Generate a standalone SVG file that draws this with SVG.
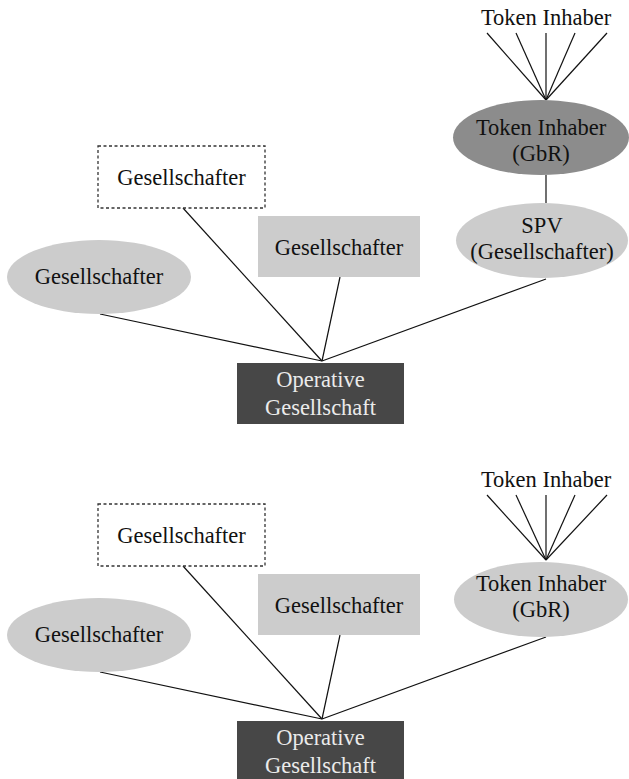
<svg xmlns="http://www.w3.org/2000/svg" width="629" height="779" viewBox="0 0 629 779" font-family="'Liberation Serif', 'DejaVu Serif', serif">
  <style>
    text { font-family: 'Liberation Serif', 'DejaVu Serif', serif; font-size: 22.5px; text-anchor: middle; fill: #111; }
    .light { fill: #cccccc; }
    .dark { fill: #8c8c8c; }
    .op { fill: #474747; }
    .optext { fill: #ebebeb; }
    .dashed { fill: #ffffff; stroke: #333; stroke-width: 1.3; stroke-dasharray: 3 2.5; }
    .edges line { stroke: #111; stroke-width: 1.2; }
  </style>
  <rect width="629" height="779" fill="#ffffff"/>

  <!-- upper structure: holders via GbR and SPV -->
  <g class="edges" id="edges-top">
    <line x1="487" y1="33" x2="546" y2="100"/>
    <line x1="516" y1="33" x2="546" y2="100"/>
    <line x1="546" y1="33" x2="546" y2="100"/>
    <line x1="575" y1="33" x2="546" y2="100"/>
    <line x1="607" y1="33" x2="546" y2="100"/>
    <line x1="546" y1="175" x2="546" y2="203"/>
    <line x1="546" y1="279" x2="322" y2="361"/>
    <line x1="100" y1="314" x2="322" y2="361"/>
    <line x1="183" y1="208" x2="322" y2="361"/>
    <line x1="340" y1="277" x2="322" y2="361"/>
  </g>

  <g id="holders-top">
    <text x="546" y="25">Token Inhaber</text>
  </g>
  <g id="gbr-top">
    <ellipse class="dark" cx="541" cy="137.5" rx="88" ry="37.5"/>
    <text x="541" y="135">Token Inhaber</text>
    <text x="541" y="161">(GbR)</text>
  </g>
  <g id="spv-top">
    <ellipse class="light" cx="542" cy="240.5" rx="86" ry="37.5"/>
    <text x="542" y="233">SPV</text>
    <text x="542" y="259">(Gesellschafter)</text>
  </g>
  <g id="partner-dashed-top">
    <rect class="dashed" x="98" y="146" width="167" height="62"/>
    <text x="181.5" y="185">Gesellschafter</text>
  </g>
  <g id="partner-rect-top">
    <rect class="light" x="258" y="216" width="162" height="61"/>
    <text x="339" y="255">Gesellschafter</text>
  </g>
  <g id="partner-ellipse-top">
    <ellipse class="light" cx="99" cy="277" rx="92" ry="37"/>
    <text x="99" y="284">Gesellschafter</text>
  </g>
  <g id="company-top">
    <rect class="op" x="237" y="363" width="167" height="61"/>
    <text class="optext" x="320.5" y="387">Operative</text>
    <text class="optext" x="320.5" y="415">Gesellschaft</text>
  </g>

  <!-- lower structure: holders via GbR directly -->
  <g class="edges" id="edges-bottom">
    <line x1="487" y1="495" x2="546" y2="560"/>
    <line x1="516" y1="495" x2="546" y2="560"/>
    <line x1="546" y1="495" x2="546" y2="560"/>
    <line x1="575" y1="495" x2="546" y2="560"/>
    <line x1="607" y1="495" x2="546" y2="560"/>
    <line x1="546" y1="637" x2="322" y2="719"/>
    <line x1="100" y1="672" x2="322" y2="719"/>
    <line x1="183" y1="566" x2="322" y2="719"/>
    <line x1="340" y1="635" x2="322" y2="719"/>
  </g>

  <g id="holders-bottom">
    <text x="546" y="487">Token Inhaber</text>
  </g>
  <g id="gbr-bottom">
    <ellipse class="light" cx="541" cy="599.5" rx="87" ry="37.5"/>
    <text x="541" y="591">Token Inhaber</text>
    <text x="541" y="617">(GbR)</text>
  </g>
  <g id="partner-dashed-bottom">
    <rect class="dashed" x="98" y="504" width="167" height="62"/>
    <text x="181.5" y="543">Gesellschafter</text>
  </g>
  <g id="partner-rect-bottom">
    <rect class="light" x="258" y="574" width="162" height="61"/>
    <text x="339" y="613">Gesellschafter</text>
  </g>
  <g id="partner-ellipse-bottom">
    <ellipse class="light" cx="99" cy="635" rx="92" ry="37"/>
    <text x="99" y="642">Gesellschafter</text>
  </g>
  <g id="company-bottom">
    <rect class="op" x="237" y="721" width="167" height="61"/>
    <text class="optext" x="320.5" y="745">Operative</text>
    <text class="optext" x="320.5" y="773">Gesellschaft</text>
  </g>
</svg>
